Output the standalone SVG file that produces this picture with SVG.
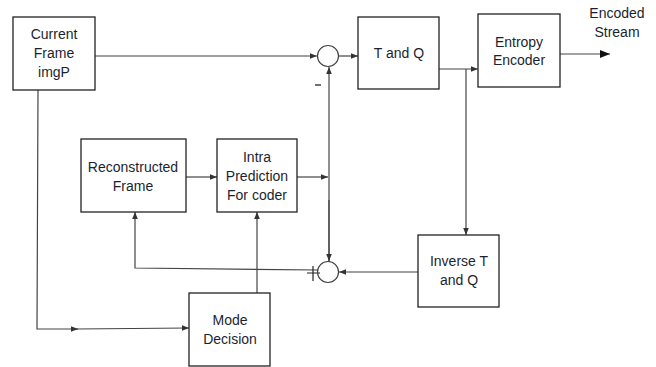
<svg xmlns="http://www.w3.org/2000/svg" width="656" height="367" viewBox="0 0 656 367">
<defs>
<style>
.box{fill:#fff;stroke:#222;stroke-width:1.3}
.ln{fill:none;stroke:#444;stroke-width:1.2}
.t{font-family:"Liberation Sans",Arial,sans-serif;font-size:14px;fill:#1c1f30;text-anchor:middle}
</style>
<marker id="a" viewBox="0 0 8 8" refX="8" refY="4" markerWidth="7" markerHeight="7" markerUnits="userSpaceOnUse" orient="auto">
<path d="M0,0.8 L8,4 L0,7.2 z" fill="#333"/>
</marker>
<marker id="ab" viewBox="0 0 10 10" refX="10" refY="5" markerWidth="10" markerHeight="10" markerUnits="userSpaceOnUse" orient="auto">
<path d="M0,1 L10,5 L0,9 z" fill="#111"/>
</marker>
</defs>
<rect width="656" height="367" fill="#fff"/>
<g id="connectors">
<path class="ln" d="M95,56 H317" marker-end="url(#a)"/>
<path class="ln" d="M339,56 H358" marker-end="url(#a)"/>
<path class="ln" d="M439,69 H478" marker-end="url(#a)"/>
<path class="ln" d="M466,69 V235" marker-end="url(#a)"/>
<path class="ln" d="M560,54 H610" stroke="#111" stroke-width="1.8" marker-end="url(#ab)"/>
<path class="ln" d="M186,177 H217" marker-end="url(#a)"/>
<path class="ln" d="M297,177 H328" marker-end="url(#a)"/>
<path class="ln" d="M329,262 V67" marker-end="url(#a)"/>
<path class="ln" d="M329,200 V261" marker-end="url(#a)"/>
<path class="ln" d="M418,272 H339" marker-end="url(#a)"/>
<path class="ln" d="M318,270 L135,268 V212" marker-end="url(#a)"/>
<path class="ln" d="M257,293 V212" marker-end="url(#a)"/>
<path class="ln" d="M38,90 L37,329 H78" marker-end="url(#a)"/>
<path class="ln" d="M76,329 L189,328" marker-end="url(#a)"/>
<path d="M307,273 H320 M313,266 V281" stroke="#222" stroke-width="1.2" fill="none"/>
<path d="M315,85 H321" stroke="#222" stroke-width="1.3"/>
</g>
<g id="sum1"><circle cx="328" cy="56" r="10.5" fill="#fff" stroke="#444" stroke-width="1.2"/></g>
<g id="sum2"><circle cx="328" cy="272" r="10.5" fill="none" stroke="#444" stroke-width="1.2"/></g>
<g id="current">
<rect class="box" x="13" y="17" width="82" height="73"/>
<text class="t" x="54" y="39">Current</text>
<text class="t" x="54" y="58">Frame</text>
<text class="t" x="54" y="77">imgP</text>
</g>
<g id="tq">
<rect class="box" x="358" y="17" width="81" height="72"/>
<text class="t" x="399" y="58">T and Q</text>
</g>
<g id="entropy">
<rect class="box" x="478" y="14" width="82" height="73"/>
<text class="t" x="519" y="47">Entropy</text>
<text class="t" x="519" y="65">Encoder</text>
</g>
<g id="stream">
<text class="t" x="617" y="18">Encoded</text>
<text class="t" x="617" y="37">Stream</text>
</g>
<g id="recon">
<rect class="box" x="81" y="139" width="105" height="73"/>
<text class="t" x="133" y="172">Reconstructed</text>
<text class="t" x="133" y="191">Frame</text>
</g>
<g id="intra">
<rect class="box" x="217" y="139" width="80" height="73"/>
<text class="t" x="257" y="162">Intra</text>
<text class="t" x="257" y="181">Prediction</text>
<text class="t" x="257" y="200">For coder</text>
</g>
<g id="inverse">
<rect class="box" x="418" y="235" width="81" height="72"/>
<text class="t" x="459" y="266">Inverse T</text>
<text class="t" x="459" y="285">and Q</text>
</g>
<g id="mode">
<rect class="box" x="189" y="293" width="81" height="73"/>
<text class="t" x="230" y="325">Mode</text>
<text class="t" x="230" y="344">Decision</text>
</g>
</svg>
